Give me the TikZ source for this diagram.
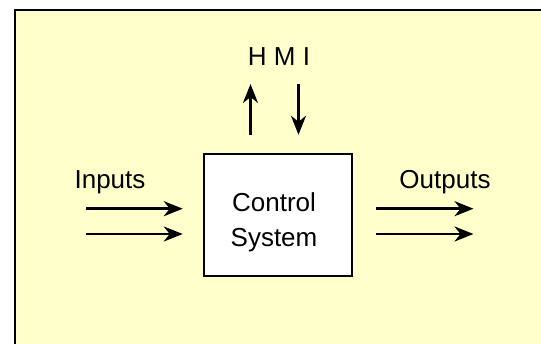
\documentclass[tikz,border=0pt]{standalone}
\usepackage{fontspec}
\setmainfont{Liberation Sans}
\usetikzlibrary{arrows.meta}
\definecolor{paleyellow}{HTML}{FFFFCC}

\begin{document}
\begin{tikzpicture}[x=1pt,y=-1pt,
    flow/.style={line width=2.5pt,-{Stealth[length=19pt,width=15pt,inset=6pt]}},
    lbl/.style={font=\fontsize{26}{34}\selectfont,anchor=base}]
  \useasboundingbox (0,0) rectangle (541,344);
  \clip (0,0) rectangle (541,344);
  \draw[line width=2.5pt,fill=paleyellow] (15,10) rectangle (600,400);
  % the control system block
  \node[draw,line width=2.5pt,fill=white,minimum width=148pt,minimum height=122pt] (ctrl) at (278,215) {};
  \node[align=center,font=\fontsize{26}{35}\selectfont] (ctrltxt) at (274,222) {Control\\System};
  \node[lbl] (hmi) at (279,65.5) {H M I};
  \node[lbl] (inp) at (110,189) {Inputs};
  \node[lbl] (outp) at (445,189) {Outputs};
  % arrow ends
  \coordinate (in1) at (86,208.7);
  \coordinate (in2) at (86,234);
  \coordinate (out1) at (473.5,208.7);
  \coordinate (out2) at (473.5,234);
  \coordinate (up) at (250.5,84);
  \coordinate (down) at (298.5,84);
  \draw[flow] (in1) -- ([xshift=-20pt]in1 -| ctrl.west);
  \draw[flow] (in2) -- ([xshift=-20pt]in2 -| ctrl.west);
  \draw[flow] ([xshift=23pt]out1 -| ctrl.east) -- (out1);
  \draw[flow] ([xshift=23pt]out2 -| ctrl.east) -- (out2);
  \draw[flow] ([yshift=18pt]up |- ctrl.north) -- (up);
  \draw[flow] (down) -- ([yshift=18pt]down |- ctrl.north);
\end{tikzpicture}
\end{document}
